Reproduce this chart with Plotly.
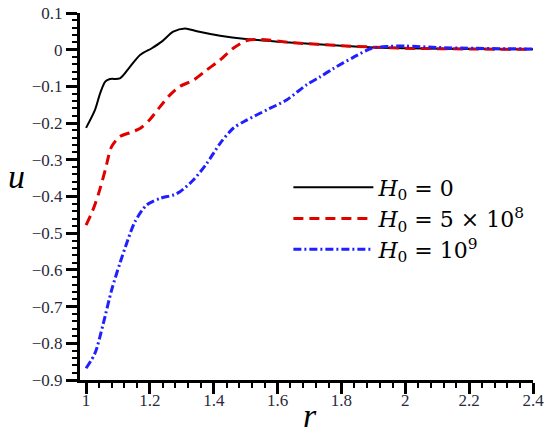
import plotly.graph_objects as go

# H0 = 0
r_h0 = [1.0, 1.028, 1.044, 1.06, 1.075, 1.106, 1.138, 1.17, 1.206, 1.237, 1.273, 1.31,
        1.347, 1.42, 1.5, 1.6, 1.7, 1.8, 1.9, 2.0, 2.2, 2.4]
u_h0 = [-0.213, -0.164, -0.119, -0.087, -0.080, -0.078, -0.046, -0.014, 0.004, 0.022, 0.049, 0.058,
        0.050, 0.038, 0.029, 0.022, 0.016, 0.011, 0.006, 0.004, 0.002, 0.001]

# H0 = 5e8
r_h5 = [1.0, 1.02, 1.04, 1.06, 1.08, 1.106, 1.138, 1.17, 1.2, 1.232, 1.263, 1.294, 1.336,
        1.378, 1.42, 1.461, 1.503, 1.545, 1.65, 1.8, 1.9, 2.0, 2.2, 2.4]
u_h5 = [-0.478, -0.44, -0.39, -0.328, -0.264, -0.237, -0.226, -0.214, -0.19, -0.155, -0.123, -0.1, -0.083,
        -0.055, -0.028, 0.004, 0.025, 0.028, 0.019, 0.011, 0.007, 0.004, 0.002, 0.001]

# H0 = 1e9
r_h9 = [1.0, 1.028, 1.054, 1.08, 1.106, 1.127, 1.153, 1.19, 1.232, 1.273, 1.294, 1.336, 1.378,
        1.42, 1.461, 1.503, 1.566, 1.628, 1.69, 1.733, 1.775, 1.837, 1.895, 1.95, 2.0, 2.1, 2.2, 2.4]
u_h9 = [-0.868, -0.827, -0.746, -0.655, -0.582, -0.528, -0.469, -0.423, -0.405, -0.396, -0.387, -0.355, -0.31,
        -0.255, -0.214, -0.192, -0.164, -0.137, -0.096, -0.074, -0.051, -0.021, 0.004, 0.009, 0.010, 0.006, 0.004, 0.002]

names = ['<i>H</i><sub>0</sub> = 0',
         '<i>H</i><sub>0</sub> = 5 × 10<sup>8</sup>',
         '<i>H</i><sub>0</sub> = 10<sup>9</sup>']

fig = go.Figure()
fig.add_trace(go.Scatter(x=r_h0, y=u_h0, mode='lines', name=names[0], legend='legend', showlegend=True,
                         line=dict(color='black', width=2, shape='spline', smoothing=0.8)))
fig.add_trace(go.Scatter(x=r_h5, y=u_h5, mode='lines', name=names[1], legend='legend2', showlegend=True,
                         line=dict(color='#e00000', width=3, dash='10px,6px', shape='spline', smoothing=0.8)))
fig.add_trace(go.Scatter(x=r_h9, y=u_h9, mode='lines', name=names[2], legend='legend3', showlegend=True,
                         line=dict(color='#2020ff', width=3, dash='8px,3px,2px,3px', shape='spline', smoothing=0.8)))

axis_common = dict(
    showline=True, linecolor='black', linewidth=3, mirror=False,
    ticks='outside', ticklen=11, tickwidth=2.5, tickcolor='black',
    showgrid=False, zeroline=False, automargin=False,
    tickfont=dict(family='Liberation Serif', size=17, color='#2a2a3a'),
)

fig.update_xaxes(range=[0.981, 2.4], dtick=0.2, tick0=1, ticklabelstandoff=-8,
                 minor=dict(dtick=0.04, ticks='outside', ticklen=5, tickwidth=1.5, tickcolor='black'),
                 **axis_common)
fig.update_yaxes(range=[-0.9, 0.1], dtick=0.1, tick0=0,
                 minor=dict(dtick=0.02, ticks='outside', ticklen=5, tickwidth=1.5, tickcolor='black'),
                 **axis_common)

legend_style = dict(x=0.46, xanchor='left', yanchor='top',
                    font=dict(family='DejaVu Serif', size=22, color='black'),
                    itemwidth=80, bgcolor='rgba(0,0,0,0)')

fig.update_layout(
    template='none',
    showlegend=True,
    width=550, height=433,
    margin=dict(l=80, r=17, t=13, b=53),
    plot_bgcolor='white', paper_bgcolor='white',
    legend=dict(y=0.582, **legend_style),
    legend2=dict(y=0.497, **legend_style),
    legend3=dict(y=0.413, **legend_style),
    annotations=[
        dict(text='<i>u</i>', x=-0.163, y=0.555, xref='paper', yref='paper', showarrow=False,
             font=dict(family='Liberation Serif', size=34, color='black')),
        dict(text='<i>r</i>', x=0.508, y=-0.152, xref='paper', yref='paper', showarrow=False,
             font=dict(family='Liberation Serif', size=34, color='black')),
    ],
)

fig.write_html("out.html", config={'displayModeBar': False},
               post_script="document.body.style.margin='0';")
